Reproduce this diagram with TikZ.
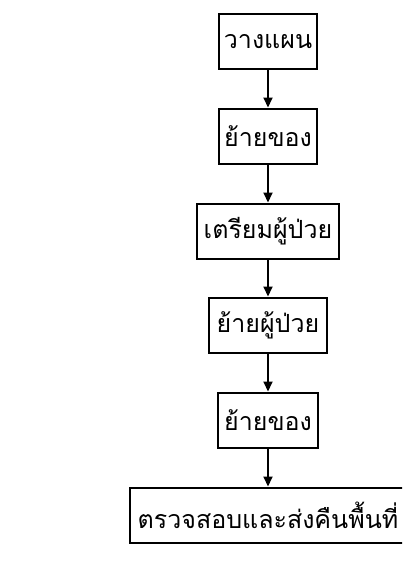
\documentclass[tikz,border=0pt]{standalone}
\usepackage{fontspec}
\newfontfamily\thaifont[Script=Thai]{Loma}
\usetikzlibrary{arrows.meta}
\begin{document}
\begin{tikzpicture}[x=1pt,y=-1pt,
  stepbox/.style={draw=black,line width=2pt,fill=white,inner sep=0pt,minimum height=55pt,font=\thaifont\fontsize{25}{30}\selectfont,anchor=center},
  flow/.style={line width=2pt,-{Triangle[width=9pt,length=10pt]}}]
\useasboundingbox[fill=white] (0,0) rectangle (402,570);
\begin{scope}
\clip (0,0) rectangle (402,570);
\node[stepbox,minimum width=98pt] (b1) at (268,41.5) {วางแผน};
\node[stepbox,minimum width=98pt] (b2) at (268,136) {ย้ายของ};
\node[stepbox,minimum width=142pt] (b3) at (268,231) {เตรียมผู้ป่วย};
\node[stepbox,minimum width=118pt] (b4) at (268,325) {ย้ายผู้ป่วย};
\node[stepbox,minimum width=100pt] (b5) at (268,420) {ย้ายของ};
\node[stepbox,minimum width=276pt] (b6) at (268,515) {ตรวจสอบและส่งคืนพื้นที่};
\draw[flow] (b1) -- (b2);
\draw[flow] (b2) -- (b3);
\draw[flow] (b3) -- (b4);
\draw[flow] (b4) -- (b5);
\draw[flow] (b5) -- (b6);
\end{scope}
\end{tikzpicture}
\end{document}
